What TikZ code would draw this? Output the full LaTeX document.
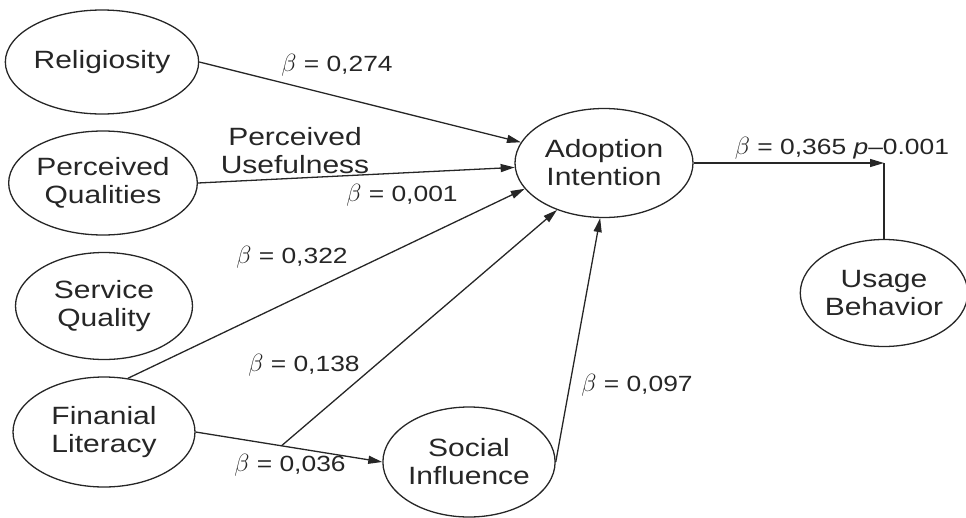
\documentclass[tikz,border=0pt]{standalone}
\usepackage{fontspec}
\setmainfont{Liberation Sans}[FakeStretch=1.2]
\usetikzlibrary{shapes.geometric,arrows.meta}
\newcommand{\bt}{{\fontsize{28}{28}\selectfont$\beta$}}
\begin{document}
\begin{tikzpicture}[x=1pt,y=-1pt,color=black!85,
    latent/.style={draw,ellipse,line width=1.3pt,inner sep=0pt,minimum width=182pt,minimum height=104pt,align=center,font=\fontsize{25}{28}\selectfont},
    arrw/.style={line width=1.3pt,-{Triangle[length=14pt,width=8pt]}},
    coef/.style={font=\fontsize{22}{25}\selectfont}]
    \useasboundingbox (0,0) rectangle (966,517);
    % constructs
    \node[latent] (rel) at (102,62) {Religiosity};
    \node[latent] (pq) at (103,183) {Perceived\\Qualities};
    \node[latent,minimum width=177pt,minimum height=107pt] (sq) at (104,306) {Service\\Quality};
    \node[latent,minimum height=110pt] (fin) at (104,432) {Finanial\\Literacy};
    \node[latent,minimum width=178pt,minimum height=109pt] (adopt) at (604,163) {Adoption\\Intention};
    \node[latent,minimum width=164pt,minimum height=107pt] (usage) at (884,293) {Usage\\Behavior};
    \node[latent,minimum width=172pt,minimum height=110pt] (soc) at (469,462) {Social\\Influence};
    % paths
    \draw[arrw] (rel.east) -- (adopt);
    \draw[arrw] (pq.east) -- (adopt);
    \draw[arrw] (fin.66) -- (adopt.198);
    \draw[arrw] (fin.east) -- coordinate[pos=0.46] (jn) (soc.west);
    \draw[arrw] (jn) -- (adopt.225);
    \draw[arrw] (soc.east) -- (adopt.266);
    \coordinate (crn) at (usage.north |- adopt.east);
    \draw[arrw] (adopt.east) -- (crn);
    \draw[line width=1.3pt] (usage.north) -- (crn);
    % coefficients
    \node[coef] (c1) at (337,65) {\bt{} = 0,274};
    \node[align=center,font=\fontsize{25}{28}\selectfont] (pu) at (295,151) {Perceived\\Usefulness};
    \node[coef] (c2) at (402,195) {\bt{} = 0,001};
    \node[coef] (c3) at (292,257) {\bt{} = 0,322};
    \node[coef] (c4) at (304,365) {\bt{} = 0,138};
    \node[coef] (c5) at (290,465) {\bt{} = 0,036};
    \node[coef] (c6) at (637,385) {\bt{} = 0,097};
    \node[coef] (c7) at (842,148) {\bt{} = 0,365 \textit{p}--0.001};
\end{tikzpicture}
\end{document}
